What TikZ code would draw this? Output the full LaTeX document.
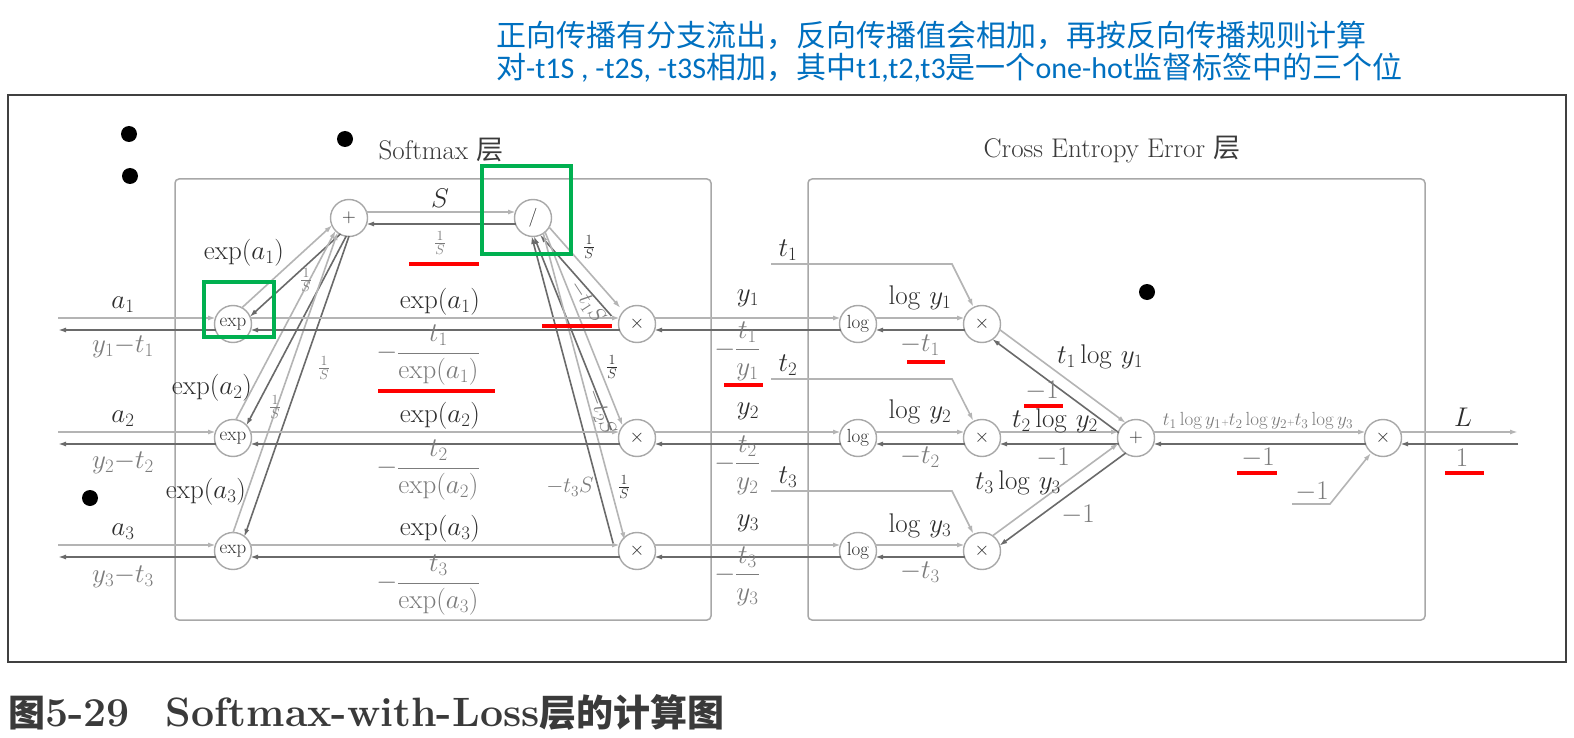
\RequirePackage{fix-cm}
\documentclass[tikz,border=0pt]{standalone}
\usepackage{amsmath}
\usepackage{fontspec}
\newfontfamily\cjk{Noto Sans CJK SC}
\newfontfamily\calib{Carlito}
\usetikzlibrary{arrows.meta,calc}
\definecolor{fgc}{HTML}{B4B4B4}
\definecolor{bgc}{HTML}{6A6A6A}
\definecolor{lab}{HTML}{2E2E2E}
\definecolor{glab}{HTML}{7C7C7C}
\definecolor{nodec}{HTML}{A8A8A8}
\definecolor{blu}{HTML}{0070C0}
\definecolor{grn}{HTML}{00B050}
\definecolor{capc}{HTML}{3A3A3A}
\newcommand{\fsz}{\fontsize{27}{32}\selectfont}
\newcommand{\dlink}[2]{%
  \draw[fwd, shorten <=17pt, shorten >=17pt] ($(#1)!6pt!90:(#2)$) -- ($(#2)!6pt!-90:(#1)$);
  \draw[bwd, shorten <=17pt, shorten >=17pt] ($(#2)!6pt!90:(#1)$) -- ($(#1)!6pt!-90:(#2)$);
}
\newcommand{\dlinkc}[4]{%
  \draw[fwd, shorten <=#3, shorten >=#4] ($(#1)!6pt!90:(#2)$) -- ($(#2)!6pt!-90:(#1)$);
  \draw[bwd, shorten <=#4, shorten >=#3] ($(#2)!6pt!90:(#1)$) -- ($(#1)!6pt!-90:(#2)$);
}
\tikzset{
  op/.style={circle, draw=nodec, line width=1.4pt, fill=white, minimum size=37pt, inner sep=0pt, text=lab, font=\fontsize{19}{21}\selectfont},
  fwd/.style={draw=fgc, line width=1.6pt, -{Latex[length=8pt,width=5pt]}},
  bwd/.style={draw=bgc, line width=1.6pt, -{Latex[length=8pt,width=5pt]}},
  lbl/.style={text=lab, font=\fsz, inner sep=0pt},
  glbl/.style={text=glab, font=\fsz, inner sep=0pt},
  rlbl/.style={text=glab, font=\fontsize{22}{25}\selectfont, inner sep=0pt},
  slbl/.style={text=glab, font=\fontsize{20}{24}\selectfont, inner sep=0pt},
  sdlbl/.style={text=lab, font=\fontsize{20}{24}\selectfont, inner sep=0pt},
  layerbox/.style={draw=nodec, line width=1.5pt, rounded corners=4pt},
  dot/.style={circle, fill=black, minimum size=16pt, inner sep=0pt},
  redmark/.style={draw=red, line width=4pt},
  greenmark/.style={draw=grn, line width=4pt},
}
\begin{document}
\begin{tikzpicture}[x=1pt,y=-1pt]
\useasboundingbox (0,0) rectangle (1574,738);
\fill[white] (0,0) rectangle (1574,738);

% top notes
\node[anchor=west, text=blu, font=\cjk\fontsize{30}{34}\selectfont, inner sep=0pt] (note1) at (496,35) {正向传播有分支流出，反向传播值会相加，再按反向传播规则计算};
\node[anchor=west, text=blu, font=\cjk\fontsize{30}{34}\selectfont, inner sep=0pt] (note2) at (496,68) {对{\calib -t1S , -t2S, -t3S}相加，其中{\calib t1,t2,t3}是一个{\calib one-hot}监督标签中的三个位};

% outer frame
\draw[line width=2.5pt, draw=black!75] (8,95) rectangle (1566,662);

% caption
\node[anchor=west, text=capc, font=\fontsize{41}{46}\selectfont, inner sep=0pt] (cap) at (8,712) {{\cjk\bfseries\fontsize{37}{42}\selectfont 图}{\bfseries 5-29}\hspace{36pt}{\bfseries Softmax-with-Loss}{\cjk\bfseries\fontsize{37}{42}\selectfont 层的计算图}};

% layer boxes
\draw[layerbox] (175,179) rectangle (711,620);
\draw[layerbox] (808,179) rectangle (1425,620);
\node[text=capc, font=\fsz, inner sep=0pt] (smt) at (441,150) {Softmax {\cjk 层}};
\node[text=capc, font=\fsz, inner sep=0pt] (cet) at (1112,150) {Cross Entropy Error {\cjk 层}};

% dots
\node[dot] (d1) at (129,134) {};
\node[dot] (d2) at (130,176) {};
\node[dot] (d3) at (345,139) {};
\node[dot] (d4) at (90,498) {};
\node[dot] (d5) at (1147,292) {};

% nodes
\node[op] (exp1) at (233,324) {exp};
\node[op] (exp2) at (233,438) {exp};
\node[op] (exp3) at (233,551) {exp};
\node[op] (plus) at (349,218) {$+$};
\node[op] (div) at (533,218) {$/$};
\node[op] (x1) at (637,324) {$\times$};
\node[op] (x2) at (637,438) {$\times$};
\node[op] (x3) at (637,551) {$\times$};
\node[op] (log1) at (858,324) {log};
\node[op] (log2) at (858,438) {log};
\node[op] (log3) at (858,551) {log};
\node[op] (m1) at (982,324) {$\times$};
\node[op] (m2) at (982,438) {$\times$};
\node[op] (m3) at (982,551) {$\times$};
\node[op] (sum) at (1136,438) {$+$};
\node[op] (fin) at (1383,438) {$\times$};

% free ends and entry points
\coordinate (in1) at (58,324);
\coordinate (in2) at (58,438);
\coordinate (in3) at (58,551);
\coordinate (out) at (1518,438);
\coordinate (t1s) at (771,264);
\coordinate (t1k) at (952,264);
\coordinate (t2s) at (771,379);
\coordinate (t2k) at (952,379);
\coordinate (t3s) at (771,491);
\coordinate (t3k) at (952,491);
\coordinate (n1s) at (1292,504);
\coordinate (n1k) at (1330,504);
\coordinate (x1t) at ($(x1)+(-21,-12)$);
\coordinate (x2t) at ($(x2)+(-20,-10)$);
\coordinate (x3t) at ($(x3)+(-18,-9)$);

% input lines
\foreach \i in {1,2,3}{
  \draw[fwd, shorten >=17pt] ($(in\i)+(0,-6)$) -- ($(exp\i)+(0,-6)$);
  \draw[bwd, shorten <=17pt] ($(exp\i)+(0,6)$) -- ($(in\i)+(0,6)$);
}
% output
\draw[fwd, shorten <=17pt] ($(fin)+(0,-6)$) -- ($(out)+(0,-6)$);
\draw[bwd, shorten >=17pt] ($(out)+(0,6)$) -- ($(fin)+(0,6)$);

% links
\dlink{exp1}{plus}
\dlink{exp2}{plus}
\dlink{exp3}{plus}
\dlink{plus}{div}
\dlinkc{div}{x1t}{17pt}{0pt}
\dlinkc{div}{x2t}{17pt}{0pt}
\dlinkc{div}{x3t}{17pt}{0pt}
\foreach \i in {1,2,3}{
  \dlink{exp\i}{x\i}
  \dlink{x\i}{log\i}
  \dlink{log\i}{m\i}
  \dlink{m\i}{sum}
}
\dlink{sum}{fin}

% t inputs
\draw[fwd] (t1s) -- (t1k) -- (m1);
\draw[fwd] (t2s) -- (t2k) -- (m2);
\draw[fwd] (t3s) -- (t3k) -- (m3);
\draw[fwd] (n1s) -- (n1k) -- (fin);

% forward labels
\node[lbl] (la1) at (123,305) {$a_1$};
\node[lbl] (la2) at (123,419) {$a_2$};
\node[lbl] (la3) at (123,532) {$a_3$};
\node[lbl] (le1) at (440,302) {$\exp(a_1)$};
\node[lbl] (le2) at (440,416) {$\exp(a_2)$};
\node[lbl] (le3) at (440,529) {$\exp(a_3)$};
\node[lbl] (ly1) at (748,298) {$y_1$};
\node[lbl] (ly2) at (748,411) {$y_2$};
\node[lbl] (ly3) at (748,523) {$y_3$};
\node[lbl] (lt1) at (788,250) {$t_1$};
\node[lbl] (lt2) at (788,365) {$t_2$};
\node[lbl] (lt3) at (788,477) {$t_3$};
\node[lbl] (llog1) at (920,298) {$\log\,y_1$};
\node[lbl] (llog2) at (920,412) {$\log\,y_2$};
\node[lbl] (llog3) at (920,526) {$\log\,y_3$};
\node[lbl] (ltl1) at (1100,357) {$t_1\log\,y_1$};
\node[lbl] (ltl2) at (1055,421) {$t_2\log\,y_2$};
\node[lbl] (ltl3) at (1018,483) {$t_3\log\,y_3$};
\node[text=glab, font=\fontsize{19}{22}\selectfont, inner sep=0pt] (lsum) at (1258,421) {$t_1\log y_1{\scriptscriptstyle +}t_2\log y_2{\scriptscriptstyle +}t_3\log y_3$};
\node[lbl] (lL) at (1463,417) {$L$};
\node[lbl] (lS) at (440,198) {$S$};
\node[lbl] (lea1) at (244,253) {$\exp(a_1)$};
\node[lbl] (lea2) at (212,388) {$\exp(a_2)$};
\node[lbl] (lea3) at (206,492) {$\exp(a_3)$};
\node[sdlbl] (ld1) at (589,247) {$\frac{1}{S}$};
\node[sdlbl] (ld2) at (612,367) {$\frac{1}{S}$};
\node[sdlbl] (ld3) at (624,487) {$\frac{1}{S}$};

% backward labels
\node[glbl] (lb1) at (123,347) {$y_1{-}t_1$};
\node[glbl] (lb2) at (123,463) {$y_2{-}t_2$};
\node[glbl] (lb3) at (123,577) {$y_3{-}t_3$};
\node[glbl] (lf1) at (428,355) {$-\dfrac{t_1}{\exp(a_1)}$};
\node[glbl] (lf2) at (428,470) {$-\dfrac{t_2}{\exp(a_2)}$};
\node[glbl] (lf3) at (428,585) {$-\dfrac{t_3}{\exp(a_3)}$};
\node[glbl] (lg1) at (737,351) {$-\dfrac{t_1}{y_1}$};
\node[glbl] (lg2) at (737,465) {$-\dfrac{t_2}{y_2}$};
\node[glbl] (lg3) at (737,576) {$-\dfrac{t_3}{y_3}$};
\node[glbl] (lnt1) at (920,345) {$-t_1$};
\node[glbl] (lnt2) at (920,457) {$-t_2$};
\node[glbl] (lnt3) at (920,572) {$-t_3$};
\node[glbl] (lm1) at (1042,391) {$-1$};
\node[glbl] (lm2) at (1053,458) {$-1$};
\node[glbl] (lm3) at (1078,515) {$-1$};
\node[glbl] (lm4) at (1258,458) {$-1$};
\node[glbl] (lone) at (1462,458) {$1$};
\node[glbl] (lm5) at (1312,492) {$-1$};
\node[slbl] (lis) at (440,243) {$\frac{1}{S}$};
\node[slbl] (lis1) at (306,280) {$\frac{1}{S}$};
\node[slbl] (lis2) at (275,407) {$\frac{1}{S}$};
\node[slbl] (lis3) at (324,368) {$\frac{1}{S}$};
\node[rlbl, rotate=-57] (lts1) at (587,302) {$-t_1S$};
\node[rlbl, rotate=-70] (lts2) at (601,412) {$-t_2S$};
\node[rlbl] (lts3) at (570,487) {$-t_3S$};

% annotations
\draw[redmark] (409,264) -- (479,264);
\draw[redmark] (542,326) -- (612,326);
\draw[redmark] (378,391) -- (495,391);
\draw[redmark] (724,385) -- (763,385);
\draw[redmark] (907,362) -- (945,362);
\draw[redmark] (1024,406) -- (1063,406);
\draw[redmark] (1237,473) -- (1277,473);
\draw[redmark] (1445,473) -- (1484,473);
\draw[greenmark] (482,166) rectangle (571,254);
\draw[greenmark] (204,282) rectangle (274,337);
\end{tikzpicture}
\end{document}
